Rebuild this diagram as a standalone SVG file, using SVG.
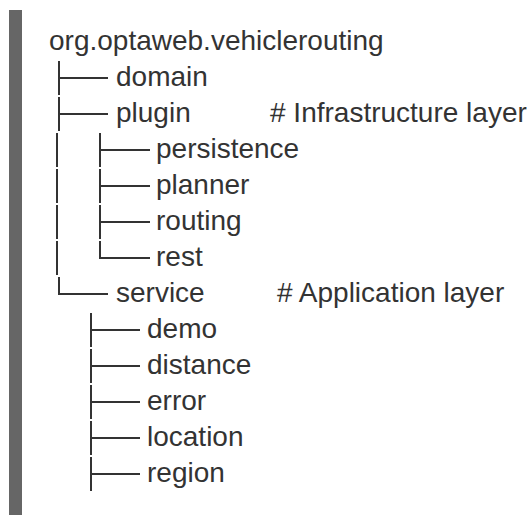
<svg xmlns="http://www.w3.org/2000/svg" width="532" height="515" viewBox="0 0 532 515">
<style>
text{font-family:"Liberation Sans",Arial,sans-serif;font-size:28px;fill:#333}
.c line{stroke:#333;stroke-width:2;fill:none}
</style>
<rect x="0" y="0" width="532" height="515" fill="#fff"/>
<rect id="bar" x="9" y="10" width="13" height="505" fill="#666"/>
<g id="root"><text x="49" y="50">org.optaweb.vehiclerouting</text></g>
<g id="domain"><text x="116" y="86">domain</text></g>
<g id="plugin"><text x="116" y="122">plugin</text><text x="270" y="122"># Infrastructure layer</text></g>
<g id="persistence"><text x="156" y="158">persistence</text></g>
<g id="planner"><text x="156" y="194">planner</text></g>
<g id="routing"><text x="156" y="230">routing</text></g>
<g id="rest"><text x="156" y="266">rest</text></g>
<g id="service"><text x="116" y="302">service</text><text x="277" y="302"># Application layer</text></g>
<g id="demo"><text x="147" y="338">demo</text></g>
<g id="distance"><text x="147" y="374">distance</text></g>
<g id="error"><text x="147" y="410">error</text></g>
<g id="location"><text x="147" y="446">location</text></g>
<g id="region"><text x="147" y="482">region</text></g>
<g id="connectors" class="c">
<!-- level 1 -->
<line x1="59" y1="61" x2="59" y2="95"/><line x1="59" y1="78" x2="108" y2="78"/>
<line x1="59" y1="97" x2="59" y2="131"/><line x1="59" y1="114" x2="108" y2="114"/>
<line x1="57" y1="133" x2="57" y2="167"/>
<line x1="57" y1="169" x2="57" y2="203"/>
<line x1="57" y1="205" x2="57" y2="239"/>
<line x1="57" y1="241" x2="57" y2="275"/>
<line x1="59" y1="277" x2="59" y2="294"/><line x1="58" y1="294" x2="108" y2="294"/>
<!-- level 2 plugin -->
<line x1="100" y1="133" x2="100" y2="167"/><line x1="100" y1="150" x2="150" y2="150"/>
<line x1="100" y1="169" x2="100" y2="203"/><line x1="100" y1="186" x2="150" y2="186"/>
<line x1="100" y1="205" x2="100" y2="239"/><line x1="100" y1="222" x2="150" y2="222"/>
<line x1="100" y1="241" x2="100" y2="258"/><line x1="99" y1="258" x2="150" y2="258"/>
<!-- level 2 service -->
<line x1="91" y1="313" x2="91" y2="347"/><line x1="91" y1="330" x2="140" y2="330"/>
<line x1="91" y1="349" x2="91" y2="383"/><line x1="91" y1="366" x2="140" y2="366"/>
<line x1="91" y1="385" x2="91" y2="419"/><line x1="91" y1="402" x2="140" y2="402"/>
<line x1="91" y1="421" x2="91" y2="455"/><line x1="91" y1="438" x2="140" y2="438"/>
<line x1="91" y1="457" x2="91" y2="491"/><line x1="91" y1="474" x2="140" y2="474"/>
</g>
</svg>
